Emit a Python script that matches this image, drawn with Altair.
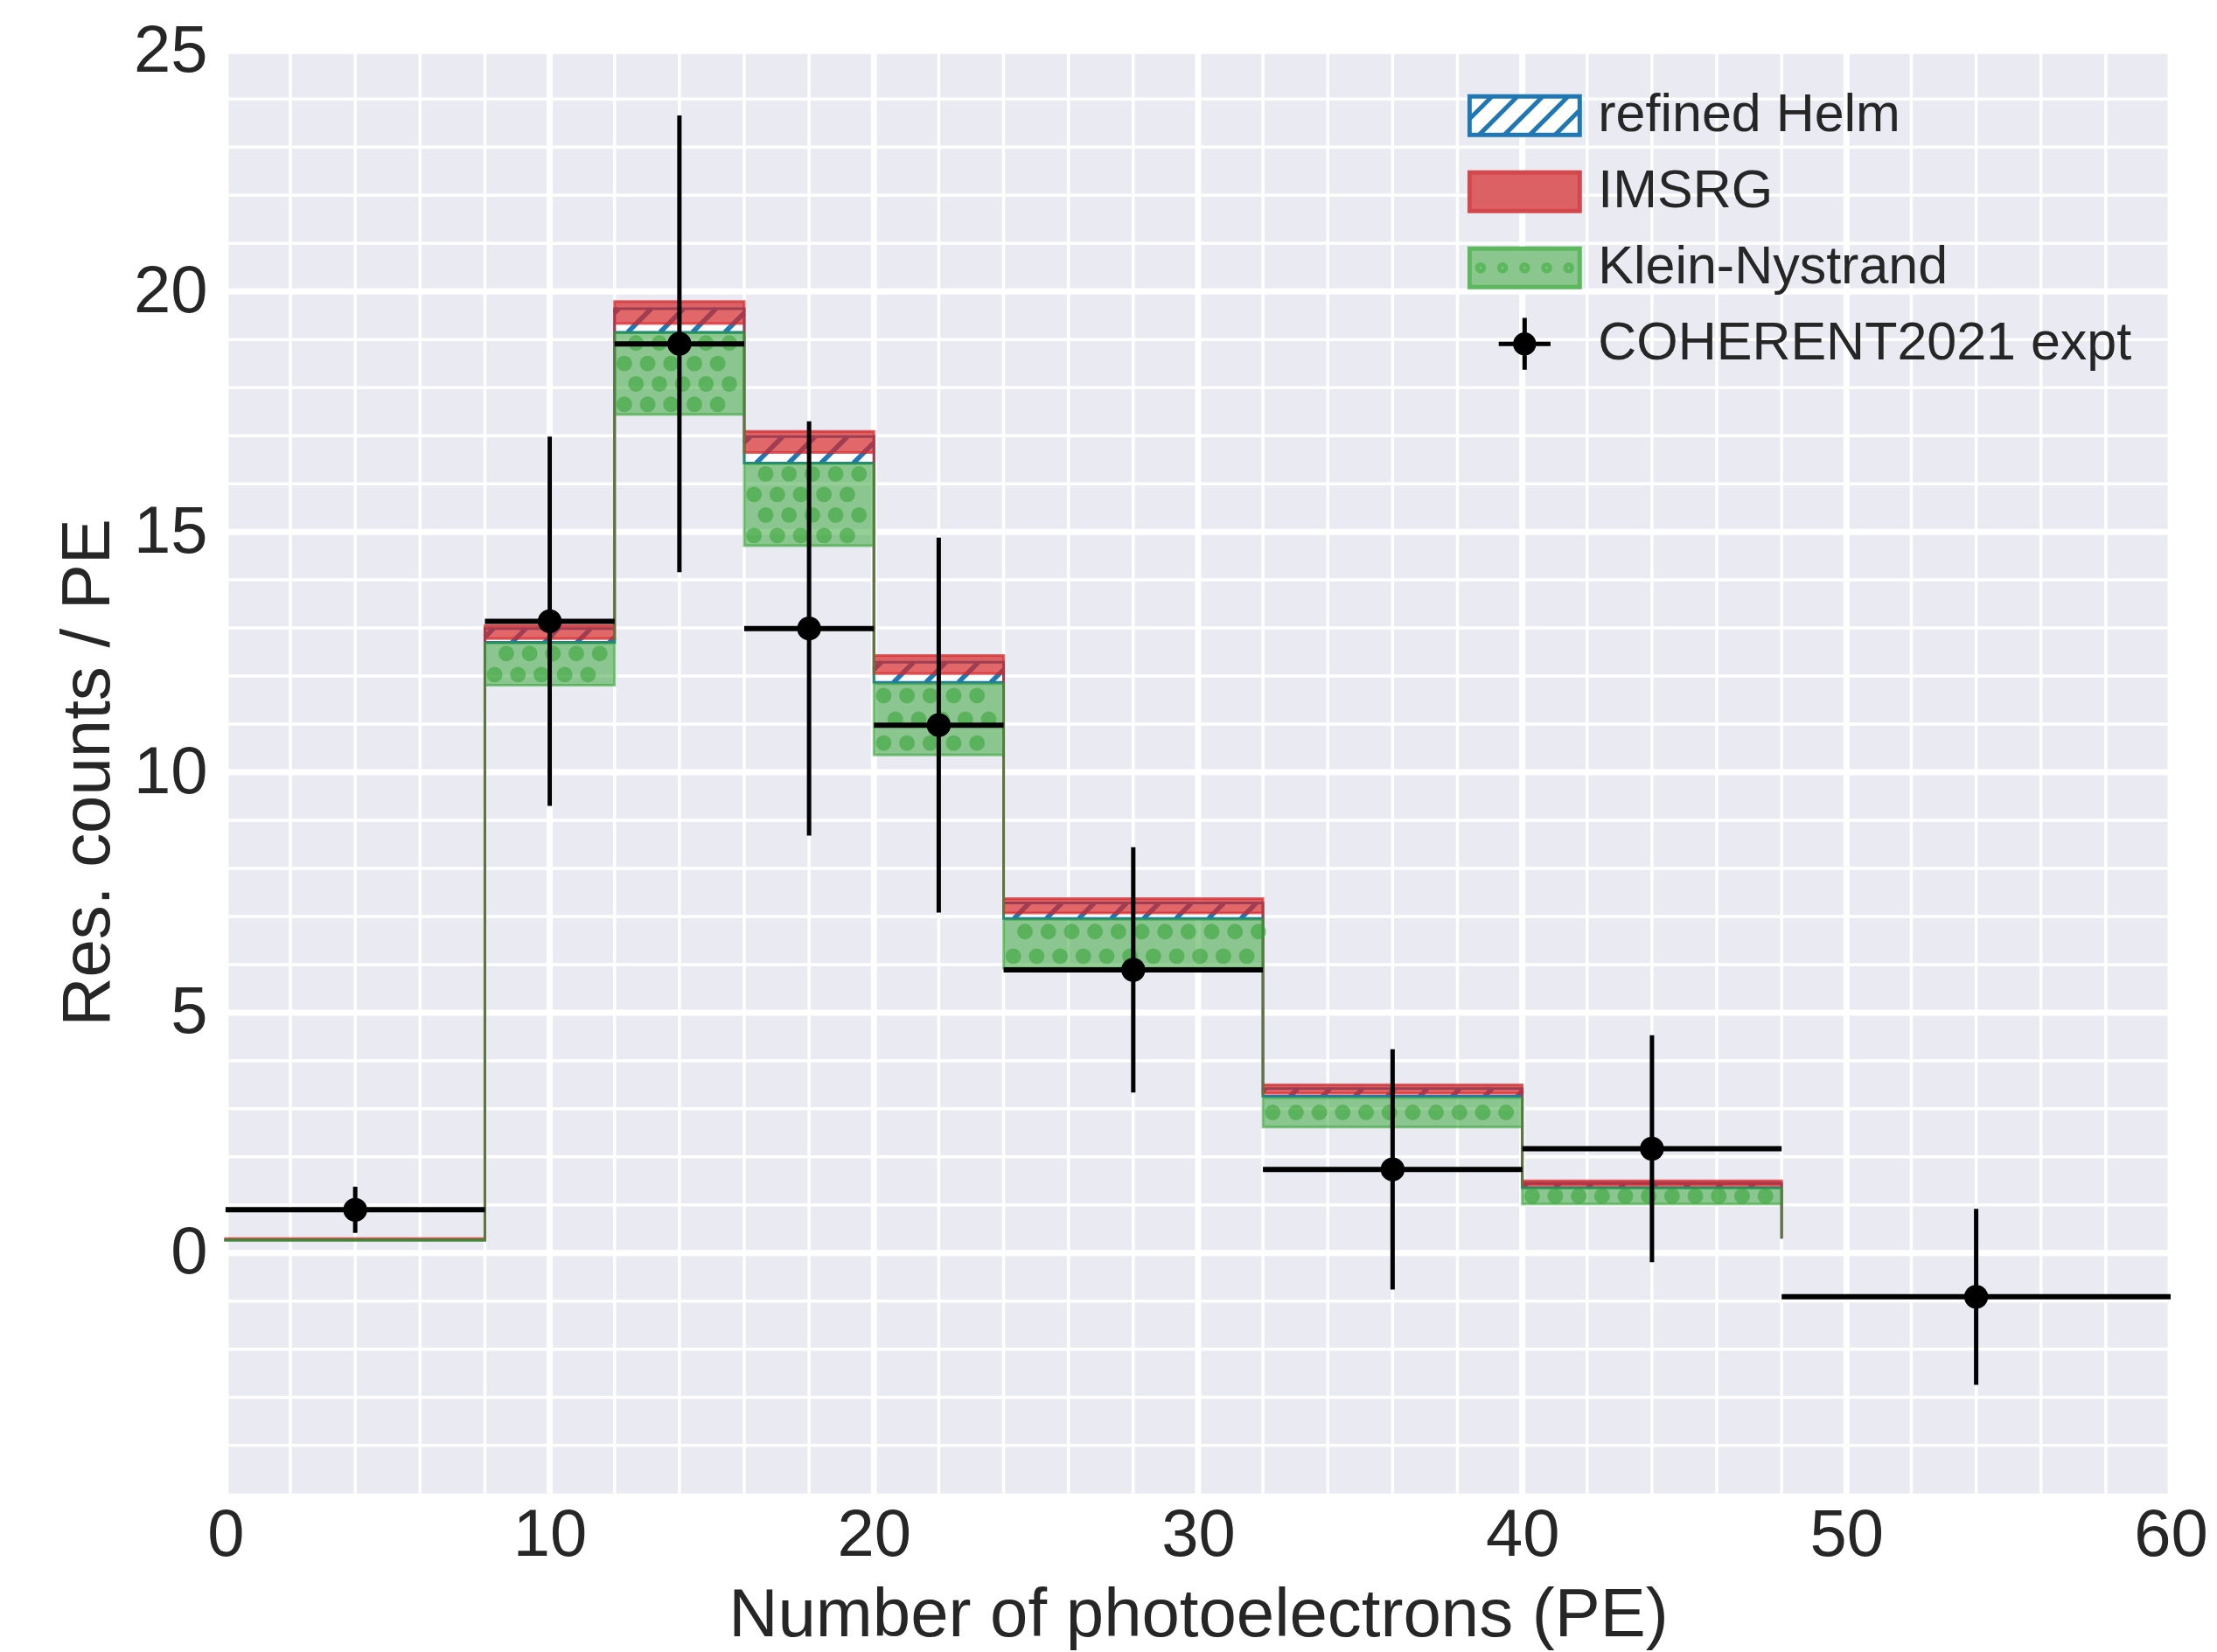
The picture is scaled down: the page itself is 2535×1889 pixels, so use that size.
import math
import altair as alt
import numpy as np
import pandas as pd

# ---------------- data ----------------
bin_edges = [0, 8, 12, 16, 20, 24, 32, 40, 48]     # left edges of model steps, last = closing edge
kn_lo    = [0.26, 11.81, 17.44, 14.71, 10.36, 5.92, 2.62, 1.02, 0.30]
kn_hi    = [0.28, 12.69, 19.14, 16.42, 11.84, 6.94, 3.23, 1.35, 0.30]
helm_lo  = [0.27, 12.70, 19.15, 16.43, 11.87, 6.96, 3.26, 1.36, 0.30]
helm_hi  = [0.28, 12.99, 19.64, 16.98, 12.29, 7.28, 3.42, 1.45, 0.30]
imsrg_lo = [0.28, 12.78, 19.33, 16.65, 12.05, 7.07, 3.32, 1.41, 0.30]
imsrg_hi = [0.30, 13.05, 19.79, 17.09, 12.43, 7.37, 3.50, 1.50, 0.30]

expt_left   = [0, 8, 12, 16, 20, 24, 32, 40, 48]
expt_right  = [8, 12, 16, 20, 24, 32, 40, 48, 60]
expt_center = [4, 10, 14, 18, 22, 28, 36, 44, 54]
expt_val    = [0.90, 13.14, 18.91, 12.99, 10.98, 5.89, 1.74, 2.17, -0.91]
expt_err    = [0.48, 3.84, 4.75, 4.31, 3.90, 2.55, 2.50, 2.36, 1.83]

x_ticks = [0, 10, 20, 30, 40, 50, 60]
y_ticks = [0, 5, 10, 15, 20, 25]
x_minor = [v for v in range(2, 60, 2) if v % 10]
y_minor = [v for v in range(-4, 25) if v % 5]

legend_names = ["refined Helm", "IMSRG", "Klein-Nystrand", "COHERENT2021 expt"]

# ---------------- layout / style ----------------
W, H = 2225, 1650
X_DOM, Y_DOM = [0, 60], [-5, 25]
PX_X = W / (X_DOM[1] - X_DOM[0])
PX_Y = H / (Y_DOM[1] - Y_DOM[0])
FONT = "Liberation Sans"
TXT = "#262626"

xs = alt.Scale(domain=X_DOM, nice=False, zero=False)
ys = alt.Scale(domain=Y_DOM, nice=False, zero=False)

xaxis = alt.Axis(values=x_ticks, title="Number of photoelectrons (PE)", grid=False,
                 ticks=False, domain=False,
                 labelFontSize=76, labelFont=FONT, labelColor=TXT, labelPadding=11,
                 labelFlush=False, titleFontSize=78, titleFont=FONT, titleColor=TXT,
                 titleFontWeight="normal", titleY=163, titleBaseline="alphabetic", format="d")
yaxis = alt.Axis(values=y_ticks, title="Res. counts / PE", grid=False,
                 ticks=False, domain=False,
                 labelFontSize=76, labelFont=FONT, labelColor=TXT, labelPadding=21,
                 labelFlush=False, titleFontSize=78, titleFont=FONT, titleColor=TXT,
                 titleFontWeight="normal", titleAngle=270, titleX=-133, titleY=H / 2,
                 titleAlign="center", titleBaseline="alphabetic", format="d")


def X(f):
    return alt.X(f, type="quantitative", scale=xs, axis=xaxis)


def Y(f):
    return alt.Y(f, type="quantitative", scale=ys, axis=yaxis)


# ---------------- derived tables ----------------
bands = pd.DataFrame({"x": bin_edges, "kn_lo": kn_lo, "kn_hi": kn_hi,
                      "helm_lo": helm_lo, "helm_hi": helm_hi,
                      "im_lo": imsrg_lo, "im_hi": imsrg_hi})

expt = pd.DataFrame({"left": expt_left, "right": expt_right, "c": expt_center,
                     "val": expt_val, "err": expt_err})

# 45-degree hatch for the refined Helm band (derived from the band limits)
slope = PX_Y / PX_X
period = 1.0
segs = []
for i in range(len(bin_edges) - 1):
    x0, x1 = bin_edges[i], bin_edges[i + 1]
    lo, hi = helm_lo[i], helm_hi[i]
    if hi - lo < 0.05:
        continue
    k0 = math.floor((x0 - hi * slope) / period)
    k1 = math.ceil((x1 - lo * slope) / period)
    for k in range(k0, k1 + 1):
        xl = k * period + lo * slope
        xh = k * period + hi * slope
        xa, xb = max(xl, x0), min(xh, x1)
        if xb - xa <= 1e-6:
            continue
        segs.append({"xa": xa, "ya": lo + (xa - xl) / slope,
                     "xb": xb, "yb": hi - (xh - xb) / slope})
hatch_df = pd.DataFrame(segs)

# dot pattern for the Klein-Nystrand band
dots = []
col_step, row_step = 0.72, 0.455
for i in range(len(bin_edges) - 1):
    x0, x1 = bin_edges[i], bin_edges[i + 1]
    lo, hi = kn_lo[i], kn_hi[i]
    h = hi - lo
    if h < 0.2:
        continue
    n = max(1, int(round(h / row_step)))
    for r in range(n):
        yv = lo + (r + 0.5) * h / n
        start = x0 + 0.3 + (col_step / 2 if r % 2 else 0)
        for xv in np.arange(start, x1 - 0.12, col_step):
            dots.append({"dx": float(xv), "dy": yv})
dots_df = pd.DataFrame(dots)

# ---------------- legend symbols (unit paths) ----------------
HH = 0.35
rect = f"M-1,-{HH}H1V{HH}H-1Z"
stripes = ""
for c in np.arange(-1.75, 1.0, 0.46):
    xa, xb = max(c, -1.0), min(c + 2 * HH, 1.0)
    if xb <= xa:
        continue
    ya = HH - (xa - c)
    yb = -HH + (c + 2 * HH - xb)
    stripes += f"M{xa:.3f},{ya:.3f}L{xb:.3f},{yb:.3f}"
rr = 0.06
dotpath = ""
for cx in [-0.8, -0.4, 0.0, 0.4, 0.8]:
    dotpath += (f"M{cx + rr:.3f},0A{rr},{rr} 0 1,1 {cx - rr:.3f},0"
                f"A{rr},{rr} 0 1,1 {cx + rr:.3f},0Z")
cr = 0.17
expt_path = (f"M{cr},0A{cr},{cr} 0 1,1 {-cr},0A{cr},{cr} 0 1,1 {cr},0Z"
             "M0,-0.47L0,0.47M-0.47,0L0.47,0")
leg_shapes = [rect + stripes, rect, rect + dotpath, expt_path]
leg_fills = ["white", "#DC6165", "#8CC68F", "black"]
leg_strokes = ["#1F77B4", "#D4484B", "#5CB85C", "black"]

# ---------------- layers ----------------
panel = alt.Chart(pd.DataFrame({"x0": [X_DOM[0]], "x1": [X_DOM[1]],
                                "y0": [Y_DOM[0]], "y1": [Y_DOM[1]]})).mark_rect(
    color="#EAEAF2").encode(x=X("x0"), x2=alt.X2("x1"), y=Y("y0"), y2=alt.Y2("y1"))

grid_x = alt.Chart(pd.DataFrame({"gx": x_minor})).mark_rule(
    color="white", strokeWidth=3.5).encode(x=X("gx"))
grid_y = alt.Chart(pd.DataFrame({"gy": y_minor})).mark_rule(
    color="white", strokeWidth=3.5).encode(y=Y("gy"))
grid_X = alt.Chart(pd.DataFrame({"gx": x_ticks})).mark_rule(
    color="white", strokeWidth=7).encode(x=X("gx"))
grid_Y = alt.Chart(pd.DataFrame({"gy": y_ticks})).mark_rule(
    color="white", strokeWidth=7).encode(y=Y("gy"))

helm = alt.Chart(bands).mark_area(
    interpolate="step-after", fill="white", stroke="#1F77B4", strokeWidth=3
).encode(x=X("x"), y=Y("helm_hi"), y2=alt.Y2("helm_lo"))

hatch = alt.Chart(hatch_df).mark_rule(color="#1F77B4", strokeWidth=5.5).encode(
    x=X("xa"), y=Y("ya"), x2=alt.X2("xb"), y2=alt.Y2("yb"))

imsrg = alt.Chart(bands).mark_area(
    interpolate="step-after", fill="#D62728", fillOpacity=0.7,
    stroke="#D62728", strokeOpacity=0.7, strokeWidth=3
).encode(x=X("x"), y=Y("im_hi"), y2=alt.Y2("im_lo"))

kn = alt.Chart(bands).mark_area(
    interpolate="step-after", fill="#2CA02C", fillOpacity=0.5,
    stroke="#2CA02C", strokeOpacity=0.55, strokeWidth=3
).encode(x=X("x"), y=Y("kn_hi"), y2=alt.Y2("kn_lo"))

kn_dots = alt.Chart(dots_df).mark_circle(size=320, color="#2CA02C", opacity=0.5).encode(
    x=X("dx"), y=Y("dy"))

hbar = alt.Chart(expt).mark_rule(color="black", strokeWidth=6).encode(
    x=X("left"), x2=alt.X2("right"), y=Y("val"))
vbar = alt.Chart(expt).transform_calculate(
    ylo="datum.val - datum.err", yhi="datum.val + datum.err"
).mark_rule(color="black", strokeWidth=5).encode(
    x=X("c"), y=Y("ylo"), y2=alt.Y2("yhi"))
pts = alt.Chart(expt).mark_circle(size=750, color="black", opacity=1).encode(
    x=X("c"), y=Y("val"))

leg = alt.Legend(title=None, orient="none", legendX=1420.5, legendY=41,
                 direction="vertical", labelFont=FONT, labelFontSize=61,
                 labelColor=TXT, labelOffset=18.5, labelLimit=2000, rowPadding=21,
                 clipHeight=66, symbolSize=15876, symbolStrokeWidth=5, padding=0)
legend_layer = alt.Chart(pd.DataFrame({"model": legend_names})).transform_filter(
    "false"
).mark_point(filled=True, opacity=1, strokeWidth=5).encode(
    fill=alt.Fill("model:N", scale=alt.Scale(domain=legend_names, range=leg_fills), legend=leg),
    stroke=alt.Stroke("model:N", scale=alt.Scale(domain=legend_names, range=leg_strokes), legend=leg),
    shape=alt.Shape("model:N", scale=alt.Scale(domain=legend_names, range=leg_shapes), legend=leg),
)

chart = alt.layer(
    panel, grid_x, grid_y, grid_X, grid_Y, helm, hatch, imsrg, kn, kn_dots,
    hbar, vbar, pts, legend_layer
).properties(
    width=W, height=H,
    padding={"left": 250, "top": 50, "right": 45, "bottom": 180},
    autosize=alt.AutoSizeParams(type="none"),
    background="white",
).configure_view(strokeWidth=0)

chart.save("out.html", embed_options={"renderer": "svg", "actions": False})
